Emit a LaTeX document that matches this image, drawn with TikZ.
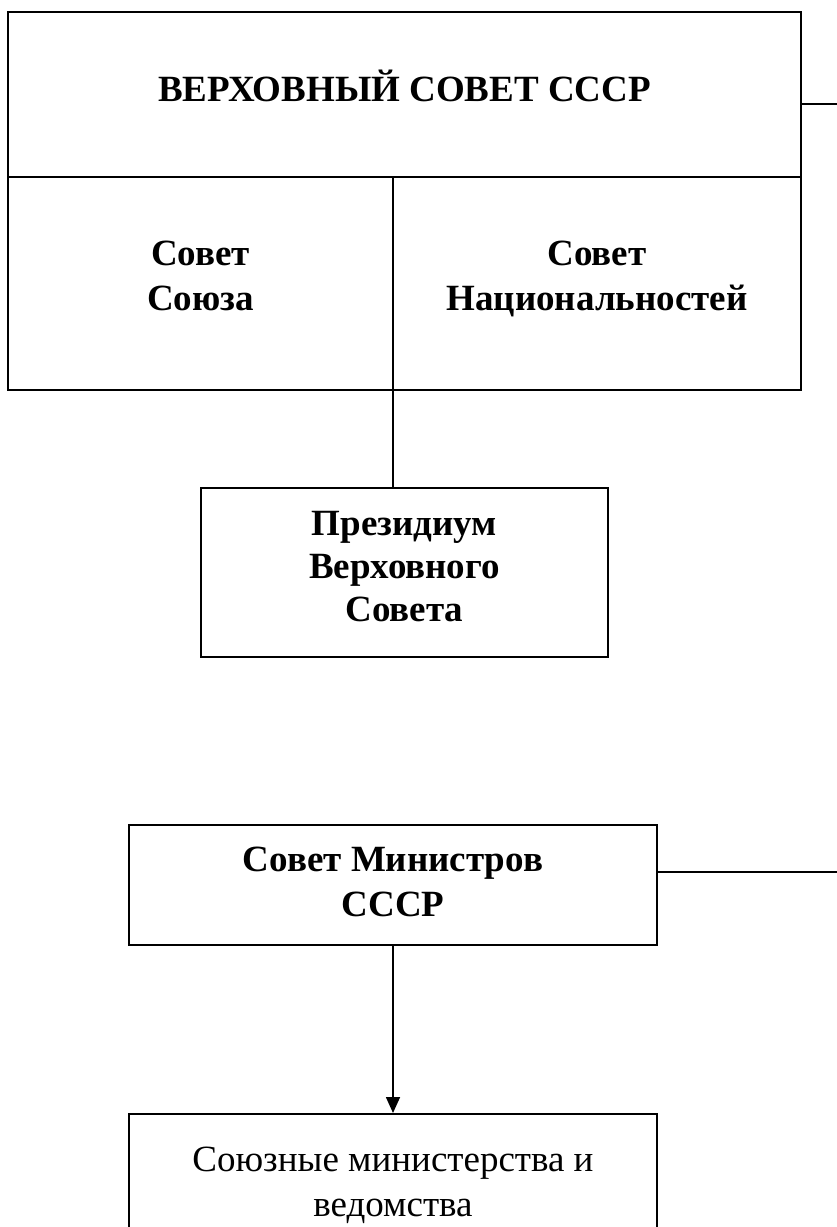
\documentclass[tikz,border=0pt]{standalone}
\usepackage{fontspec}
\setmainfont{Liberation Serif}
\usetikzlibrary{arrows.meta}
\begin{document}
\begin{tikzpicture}[x=1pt,y=1pt,
  box/.style={draw, line width=1.6pt, inner sep=0pt},
  btxt/.style={align=center, font=\fontsize{37}{45}\selectfont\bfseries, inner sep=0pt, anchor=base},
  rtxt/.style={align=center, font=\fontsize{37}{45}\selectfont, inner sep=0pt, anchor=base},
  conn/.style={line width=1.6pt}]
\useasboundingbox (0,0) rectangle (837,-1227);
\clip (0,0) rectangle (837,-1227);
\node[box, minimum width=793, minimum height=165] (title) at (404.5,-94.5) {};
\node[btxt] (titletxt) at (404.5,-101) {ВЕРХОВНЫЙ СОВЕТ СССР};
\node[box, minimum width=385, minimum height=213] (union) at (200.5,-283.5) {};
\node[btxt] (uniontxt) at (200.5,-310) {Совет\\Союза};
\node[box, minimum width=408, minimum height=213] (nations) at (597,-283.5) {};
\node[btxt] (nationstxt) at (597,-310) {Совет\\Национальностей};
\node[box, minimum width=407, minimum height=169] (pres) at (404.5,-572.5) {};
\node[btxt, font=\fontsize{37}{43}\selectfont\bfseries] (prestxt) at (404.5,-621) {Президиум\\Верховного\\Совета};
\node[box, minimum width=528, minimum height=120] (counc) at (393,-885) {};
\node[btxt] (counctxt) at (393,-916) {Совет Министров\\СССР};
\node[box, minimum width=528, minimum height=160, anchor=north] (mins) at (393,-1113) {};
\node[rtxt] (minstxt) at (393,-1216) {Союзные министерства и\\ведомства};
\coordinate (r1) at (837,-104);
\coordinate (r2) at (837,-872);
\coordinate (split) at (393,-390);
\draw[conn] (r1 -| title.east) -- (r1);
\draw[conn] (r2 -| counc.east) -- (r2);
\draw[conn] (split) -- (split |- pres.north);
\draw[conn, -{Triangle[length=16pt,width=14pt]}] (counc.south) -- (mins.north);
\end{tikzpicture}
\end{document}
